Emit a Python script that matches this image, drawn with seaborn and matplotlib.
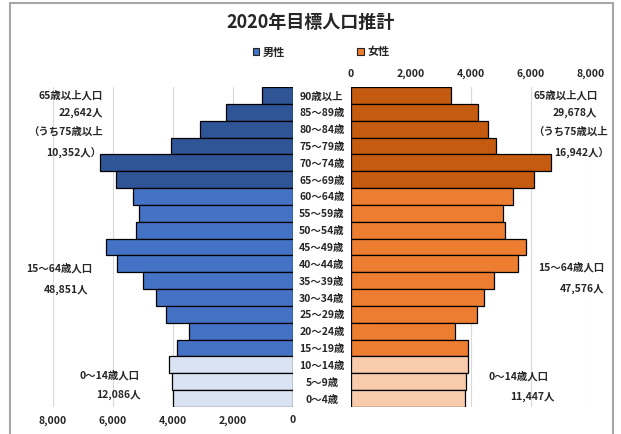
import pandas as pd
import numpy as np
import seaborn as sns
import matplotlib.pyplot as plt
from matplotlib.patches import Patch, Rectangle

ages = ['90歳以上', '85～89歳', '80～84歳', '75～79歳', '70～74歳', '65～69歳',
        '60～64歳', '55～59歳', '50～54歳', '45～49歳', '40～44歳', '35～39歳',
        '30～34歳', '25～29歳', '20～24歳', '15～19歳', '10～14歳', '5～9歳', '0～4歳']
male = [1030, 2230, 3100, 4070, 6430, 5900, 5330, 5130, 5230, 6230,
        5870, 5000, 4570, 4230, 3470, 3870, 4130, 4030, 4000]
female = [3330, 4230, 4570, 4830, 6670, 6100, 5400, 5070, 5130, 5830,
          5570, 4770, 4430, 4200, 3470, 3900, 3900, 3830, 3800]
groups = ['65歳以上'] * 6 + ['15～64歳'] * 10 + ['0～14歳'] * 3
xticks = [0, 2000, 4000, 6000, 8000]

male_pal = {'65歳以上': '#2f5597', '15～64歳': '#4472c4', '0～14歳': '#dae3f3'}
female_pal = {'65歳以上': '#c55a11', '15～64歳': '#ed7d31', '0～14歳': '#f8cbad'}

df = pd.DataFrame({'age': ages, 'male': male, 'female': female, 'group': groups})

sns.set_style('white')
plt.rcParams['font.family'] = ['Noto Sans CJK JP', 'DejaVu Sans']
plt.rcParams['font.weight'] = 'bold'

fig = plt.figure(figsize=(6.21, 4.34), dpi=100)
W, H = 621, 434
axl = fig.add_axes([53 / W, 1 - 407 / H, 240 / W, 320 / H])
axr = fig.add_axes([351 / W, 1 - 407 / H, 240 / W, 320 / H])

sns.barplot(data=df, x='male', y='age', hue='group', palette=male_pal, dodge=False,
            saturation=1, width=1.0, edgecolor='black', linewidth=0.9, ax=axl, legend=False)
sns.barplot(data=df, x='female', y='age', hue='group', palette=female_pal, dodge=False,
            saturation=1, width=1.0, edgecolor='black', linewidth=0.9, ax=axr, legend=False)

fmt = [f'{v:,}' for v in xticks]
for ax in (axl, axr):
    ax.set_xlim(0, 8000)
    ax.set_xticks(xticks)
    ax.set_xticklabels(fmt, fontsize=7.5, fontweight='bold')
    ax.grid(axis='x', color='#d9d9d9', lw=0.8)
    ax.set_axisbelow(True)
    ax.set_xlabel('')
    ax.set_ylabel('')
    for s in ax.spines.values():
        s.set_visible(False)
    ax.tick_params(length=0)

axl.invert_xaxis()
axl.set_yticks([])
axl.tick_params(axis='x', pad=6)
axr.xaxis.tick_top()
axr.tick_params(axis='x', pad=6)
axr.set_yticks(range(len(ages)))
axr.set_yticklabels(ages, fontsize=7.5, fontweight='bold', ha='center')
axr.tick_params(axis='y', pad=21)

fig.text(0.5, 1 - 22 / H, '2020年目標人口推計', ha='center', va='center',
         fontsize=13, fontweight='bold')

handles = [Patch(facecolor='#4472c4', edgecolor='#222222', lw=0.8, label='男性'),
           Patch(facecolor='#ed7d31', edgecolor='#222222', lw=0.8, label='女性')]
fig.legend(handles=handles, loc='center', bbox_to_anchor=(321 / W, 1 - 52 / H), ncol=2,
           frameon=False, handlelength=0.6, handleheight=0.6, handletextpad=0.3,
           columnspacing=6.5, prop={'size': 8, 'weight': 'bold'})

notes = [
    (103, 95, '65歳以上人口', 'right'), (103, 113, '22,642人', 'right'),
    (103, 132, '（うち75歳以上', 'right'), (101, 153, '10,352人）', 'right'),
    (92, 268, '15～64歳人口', 'right'), (88, 290, '48,851人', 'right'),
    (139, 375, '0～14歳人口', 'right'), (141, 395, '12,086人', 'right'),
    (533, 95, '65歳以上人口', 'left'), (553, 113, '29,678人', 'left'),
    (533, 132, '（うち75歳以上', 'left'), (554, 153, '16,942人）', 'left'),
    (538, 267, '15～64歳人口', 'left'), (560, 289, '47,576人', 'left'),
    (488, 376, '0～14歳人口', 'left'), (510, 397, '11,447人', 'left'),
]
for x, y, t, ha in notes:
    fig.text(x / W, 1 - y / H, t, ha=ha, va='center', fontsize=7.5, fontweight='bold')

fig.patches.append(Rectangle((10 / W, -0.05), 603 / W, 1.05 - 3 / H, transform=fig.transFigure,
                             fill=False, edgecolor='#a6a6a6', lw=1.5))

fig.savefig('out.png', dpi=100)
